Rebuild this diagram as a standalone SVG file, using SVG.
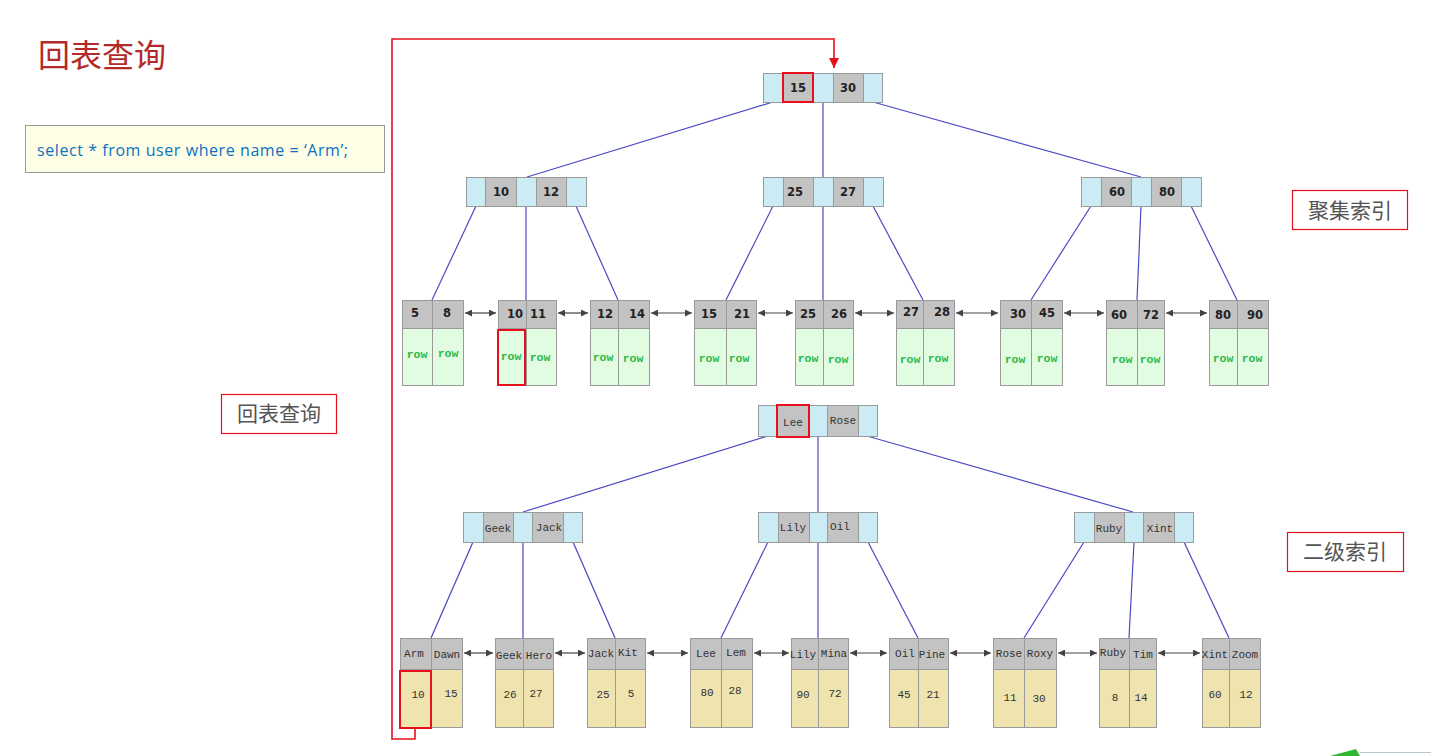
<svg xmlns="http://www.w3.org/2000/svg" width="1431" height="756" viewBox="0 0 1431 756">
<style>
.bl{fill:#cbecf4;stroke:#9a9a9a;stroke-width:1}
.gr{fill:#c3c3c3;stroke:#9a9a9a;stroke-width:1}
.gn{fill:#e1fce1;stroke:#9a9a9a;stroke-width:1}
.ye{fill:#efe3b0;stroke:#9a9a9a;stroke-width:1}
.hl{fill:none;stroke:#e8101a;stroke-width:2}
.k{font-family:"DejaVu Sans",sans-serif;font-size:11.5px;font-weight:bold;fill:#222;text-anchor:middle}
.nm{font-family:"Liberation Mono","DejaVu Sans Mono",monospace;font-size:11px;fill:#333;text-anchor:middle}
.rw{font-family:"Liberation Mono","DejaVu Sans Mono",monospace;font-size:11.5px;font-weight:bold;fill:#2bb84a;text-anchor:middle}
.num{font-family:"Liberation Mono","DejaVu Sans Mono",monospace;font-size:11px;fill:#333;text-anchor:middle}
.ln{stroke:#4a4ac4;stroke-width:1.2;fill:none}
.ar{stroke:#444;stroke-width:1.2;fill:none;marker-start:url(#ah);marker-end:url(#ah)}
.lbl{fill:#fff;stroke:#e8101a;stroke-width:1.2}
.lt{font-family:"Noto Sans CJK SC",sans-serif;font-size:21px;fill:#555;text-anchor:middle}
</style>
<defs>
<marker id="ah" viewBox="0 0 10 10" refX="10" refY="5" markerWidth="7" markerHeight="7" orient="auto-start-reverse" markerUnits="userSpaceOnUse">
<path d="M0,0 L10,5 L0,10 z" fill="#444"/>
</marker>
<marker id="rh" viewBox="0 0 10 10" refX="10" refY="5" markerWidth="10" markerHeight="10" orient="auto" markerUnits="userSpaceOnUse">
<path d="M0,0 L10,5 L0,10 z" fill="#e8101a"/>
</marker>
</defs>
<rect width="1431" height="756" fill="#fff"/>

<g id="title">
<text x="38" y="67" font-family="Noto Sans CJK SC,sans-serif" font-size="32" fill="#b22a2a">回表查询</text>
</g>
<g id="sql">
<rect x="25.500" y="125.500" width="359" height="47" fill="#fefee6" stroke="#999"/>
<text x="37" y="156" font-family="Open Sans,Liberation Sans,sans-serif" font-size="16" fill="#0b72c0" textLength="311">select * from user where name = ‘Arm’;</text>
</g>
<g id="label-huibiao">
<rect class="lbl" x="221.500" y="394.500" width="115" height="39"/>
<text class="lt" x="279" y="421">回表查询</text>
</g>
<g id="label-juji">
<rect class="lbl" x="1292.500" y="190.500" width="115" height="39"/>
<text class="lt" x="1350" y="218">聚集索引</text>
</g>
<g id="label-erji">
<rect class="lbl" x="1287.500" y="532.500" width="116" height="39"/>
<text class="lt" x="1345" y="559">二级索引</text>
</g>

<g id="connectors">
<line class="ln" x1="773" y1="102" x2="527" y2="177"/>
<line class="ln" x1="823" y1="102" x2="823" y2="177"/>
<line class="ln" x1="873" y1="102" x2="1141" y2="177"/>
<line class="ln" x1="476" y1="206" x2="432" y2="300"/>
<line class="ln" x1="526" y1="206" x2="526" y2="300"/>
<line class="ln" x1="576" y1="206" x2="618" y2="300"/>
<line class="ln" x1="773" y1="206" x2="726" y2="300"/>
<line class="ln" x1="823" y1="206" x2="823" y2="300"/>
<line class="ln" x1="873" y1="206" x2="923" y2="300"/>
<line class="ln" x1="1091" y1="206" x2="1031" y2="300"/>
<line class="ln" x1="1141" y1="206" x2="1137" y2="300"/>
<line class="ln" x1="1191" y1="206" x2="1237" y2="300"/>
<line class="ar" x1="465" y1="313" x2="496" y2="313"/>
<line class="ar" x1="558" y1="313" x2="588" y2="313"/>
<line class="ar" x1="651" y1="313" x2="692" y2="313"/>
<line class="ar" x1="758" y1="313" x2="793" y2="313"/>
<line class="ar" x1="855" y1="313" x2="894" y2="313"/>
<line class="ar" x1="956" y1="313" x2="998" y2="313"/>
<line class="ar" x1="1064" y1="313" x2="1104" y2="313"/>
<line class="ar" x1="1166" y1="313" x2="1207" y2="313"/>

<line class="ln" x1="768" y1="436" x2="523" y2="512"/>
<line class="ln" x1="818" y1="436" x2="818" y2="512"/>
<line class="ln" x1="867" y1="436" x2="1133" y2="512"/>
<line class="ln" x1="473" y1="542" x2="431" y2="638"/>
<line class="ln" x1="523" y1="542" x2="523" y2="638"/>
<line class="ln" x1="573" y1="542" x2="615" y2="638"/>
<line class="ln" x1="768" y1="542" x2="721" y2="638"/>
<line class="ln" x1="818" y1="542" x2="818" y2="638"/>
<line class="ln" x1="868" y1="542" x2="918" y2="638"/>
<line class="ln" x1="1084" y1="542" x2="1024" y2="638"/>
<line class="ln" x1="1134" y1="542" x2="1129" y2="638"/>
<line class="ln" x1="1184" y1="542" x2="1229" y2="638"/>
<line class="ar" x1="464" y1="653" x2="493" y2="653"/>
<line class="ar" x1="555" y1="653" x2="585" y2="653"/>
<line class="ar" x1="647" y1="653" x2="688" y2="653"/>
<line class="ar" x1="754" y1="653" x2="789" y2="653"/>
<line class="ar" x1="850" y1="653" x2="887" y2="653"/>
<line class="ar" x1="950" y1="653" x2="991" y2="653"/>
<line class="ar" x1="1058" y1="653" x2="1097" y2="653"/>
<line class="ar" x1="1158" y1="653" x2="1200" y2="653"/>

<path d="M415,728 V739 H392 V39 H834 V68" fill="none" stroke="#e8101a" stroke-width="1.6" marker-end="url(#rh)"/>
</g>

<!-- clustered index internal nodes -->
<g id="c-root">
<rect class="bl" x="763.500" y="73.500" width="20" height="29"/><rect class="gr" x="783.500" y="73.500" width="30" height="29"/><rect class="bl" x="813.500" y="73.500" width="20" height="29"/><rect class="gr" x="833.500" y="73.500" width="30" height="29"/><rect class="bl" x="863.500" y="73.500" width="19" height="29"/>
<rect class="hl" x="783" y="73" width="30" height="29"/>
<text class="k" x="798" y="92">15</text><text class="k" x="848" y="92">30</text>
</g>
<g id="c-l">
<rect class="bl" x="466.500" y="177.500" width="19" height="29"/><rect class="gr" x="485.500" y="177.500" width="31" height="29"/><rect class="bl" x="516.500" y="177.500" width="20" height="29"/><rect class="gr" x="536.500" y="177.500" width="30" height="29"/><rect class="bl" x="566.500" y="177.500" width="20" height="29"/>
<text class="k" x="501" y="196">10</text><text class="k" x="551" y="196">12</text>
</g>
<g id="c-m">
<rect class="bl" x="763.500" y="177.500" width="20" height="29"/><rect class="gr" x="783.500" y="177.500" width="30" height="29"/><rect class="bl" x="813.500" y="177.500" width="20" height="29"/><rect class="gr" x="833.500" y="177.500" width="30" height="29"/><rect class="bl" x="863.500" y="177.500" width="20" height="29"/>
<text class="k" x="795" y="196">25</text><text class="k" x="848" y="196">27</text>
</g>
<g id="c-r">
<rect class="bl" x="1081.500" y="177.500" width="20" height="29"/><rect class="gr" x="1101.500" y="177.500" width="30" height="29"/><rect class="bl" x="1131.500" y="177.500" width="20" height="29"/><rect class="gr" x="1151.500" y="177.500" width="30" height="29"/><rect class="bl" x="1181.500" y="177.500" width="20" height="29"/>
<text class="k" x="1117" y="196">60</text><text class="k" x="1167" y="196">80</text>
</g>

<!-- clustered leaves -->
<g id="c-leaf1">
<rect class="gr" x="402.500" y="300.500" width="30" height="28"/><rect class="gr" x="432.500" y="300.500" width="31" height="28"/>
<rect class="gn" x="402.500" y="328.500" width="30" height="57"/><rect class="gn" x="432.500" y="328.500" width="31" height="57"/>
<text class="k" x="415" y="317">5</text><text class="k" x="447" y="317">8</text>
<text class="rw" x="417" y="358">row</text><text class="rw" x="448" y="357">row</text>
</g>
<g id="c-leaf2">
<rect class="gr" x="498.500" y="300.500" width="28" height="28"/><rect class="gr" x="526.500" y="300.500" width="30" height="28"/>
<rect class="gn" x="498.500" y="328.500" width="28" height="57"/><rect class="gn" x="526.500" y="328.500" width="30" height="57"/>
<rect class="hl" x="498" y="330" width="27" height="55"/>
<text class="k" x="515" y="318">10</text><text class="k" x="538" y="318">11</text>
<text class="rw" x="511" y="360">row</text><text class="rw" x="540" y="361">row</text>
</g>
<g id="c-leaf3">
<rect class="gr" x="590.500" y="300.500" width="28" height="28"/><rect class="gr" x="618.500" y="300.500" width="31" height="28"/>
<rect class="gn" x="590.500" y="328.500" width="28" height="57"/><rect class="gn" x="618.500" y="328.500" width="31" height="57"/>
<text class="k" x="605" y="318">12</text><text class="k" x="637" y="318">14</text>
<text class="rw" x="603" y="361">row</text><text class="rw" x="633" y="362">row</text>
</g>
<g id="c-leaf4">
<rect class="gr" x="694.500" y="300.500" width="32" height="28"/><rect class="gr" x="726.500" y="300.500" width="30" height="28"/>
<rect class="gn" x="694.500" y="328.500" width="32" height="57"/><rect class="gn" x="726.500" y="328.500" width="30" height="57"/>
<text class="k" x="709" y="318">15</text><text class="k" x="742" y="318">21</text>
<text class="rw" x="709" y="362">row</text><text class="rw" x="739" y="362">row</text>
</g>
<g id="c-leaf5">
<rect class="gr" x="795.500" y="300.500" width="28" height="28"/><rect class="gr" x="823.500" y="300.500" width="30" height="28"/>
<rect class="gn" x="795.500" y="328.500" width="28" height="57"/><rect class="gn" x="823.500" y="328.500" width="30" height="57"/>
<text class="k" x="808" y="318">25</text><text class="k" x="839" y="318">26</text>
<text class="rw" x="808" y="362">row</text><text class="rw" x="838" y="363">row</text>
</g>
<g id="c-leaf6">
<rect class="gr" x="896.500" y="300.500" width="27" height="28"/><rect class="gr" x="923.500" y="300.500" width="31" height="28"/>
<rect class="gn" x="896.500" y="328.500" width="27" height="57"/><rect class="gn" x="923.500" y="328.500" width="31" height="57"/>
<text class="k" x="911" y="316">27</text><text class="k" x="942" y="316">28</text>
<text class="rw" x="910" y="363">row</text><text class="rw" x="938" y="362">row</text>
</g>
<g id="c-leaf7">
<rect class="gr" x="1000.500" y="300.500" width="31" height="28"/><rect class="gr" x="1031.500" y="300.500" width="31" height="28"/>
<rect class="gn" x="1000.500" y="328.500" width="31" height="57"/><rect class="gn" x="1031.500" y="328.500" width="31" height="57"/>
<text class="k" x="1018" y="318">30</text><text class="k" x="1047" y="317">45</text>
<text class="rw" x="1015" y="363">row</text><text class="rw" x="1047" y="362">row</text>
</g>
<g id="c-leaf8">
<rect class="gr" x="1106.500" y="300.500" width="31" height="28"/><rect class="gr" x="1137.500" y="300.500" width="27" height="28"/>
<rect class="gn" x="1106.500" y="328.500" width="31" height="57"/><rect class="gn" x="1137.500" y="328.500" width="27" height="57"/>
<text class="k" x="1119" y="319">60</text><text class="k" x="1151" y="319">72</text>
<text class="rw" x="1122" y="363">row</text><text class="rw" x="1150" y="363">row</text>
</g>
<g id="c-leaf9">
<rect class="gr" x="1209.500" y="300.500" width="28" height="28"/><rect class="gr" x="1237.500" y="300.500" width="31" height="28"/>
<rect class="gn" x="1209.500" y="328.500" width="28" height="57"/><rect class="gn" x="1237.500" y="328.500" width="31" height="57"/>
<text class="k" x="1223" y="319">80</text><text class="k" x="1255" y="319">90</text>
<text class="rw" x="1223" y="362">row</text><text class="rw" x="1252" y="362">row</text>
</g>

<!-- secondary index internal nodes -->
<g id="s-root">
<rect class="bl" x="758.500" y="405.500" width="19" height="31"/><rect class="gr" x="777.500" y="405.500" width="32" height="31"/><rect class="bl" x="809.500" y="405.500" width="18" height="31"/><rect class="gr" x="827.500" y="405.500" width="31" height="31"/><rect class="bl" x="858.500" y="405.500" width="19" height="31"/>
<rect class="hl" x="777" y="405" width="32" height="32"/>
<text class="nm" x="793" y="426">Lee</text><text class="nm" x="843" y="424">Rose</text>
</g>
<g id="s-l">
<rect class="bl" x="463.500" y="512.500" width="20" height="30"/><rect class="gr" x="483.500" y="512.500" width="30" height="30"/><rect class="bl" x="513.500" y="512.500" width="19" height="30"/><rect class="gr" x="532.500" y="512.500" width="31" height="30"/><rect class="bl" x="563.500" y="512.500" width="19" height="30"/>
<text class="nm" x="498" y="532">Geek</text><text class="nm" x="549" y="531">Jack</text>
</g>
<g id="s-m">
<rect class="bl" x="758.500" y="512.500" width="20" height="30"/><rect class="gr" x="778.500" y="512.500" width="31" height="30"/><rect class="bl" x="809.500" y="512.500" width="18" height="30"/><rect class="gr" x="827.500" y="512.500" width="31" height="30"/><rect class="bl" x="858.500" y="512.500" width="19" height="30"/>
<text class="nm" x="793" y="531">Lily</text><text class="nm" x="840" y="530">Oil</text>
</g>
<g id="s-r">
<rect class="bl" x="1074.500" y="512.500" width="20" height="30"/><rect class="gr" x="1094.500" y="512.500" width="30" height="30"/><rect class="bl" x="1124.500" y="512.500" width="19" height="30"/><rect class="gr" x="1143.500" y="512.500" width="31" height="30"/><rect class="bl" x="1174.500" y="512.500" width="19" height="30"/>
<text class="nm" x="1109" y="532">Ruby</text><text class="nm" x="1160" y="532">Xint</text>
</g>

<!-- secondary leaves -->
<g id="s-leaf1">
<rect class="gr" x="400.500" y="638.500" width="31" height="31"/><rect class="gr" x="431.500" y="638.500" width="31" height="31"/>
<rect class="ye" x="400.500" y="669.500" width="31" height="58"/><rect class="ye" x="431.500" y="669.500" width="31" height="58"/>
<rect class="hl" x="400" y="671" width="31" height="57"/>
<text class="nm" x="414" y="657">Arm</text><text class="nm" x="447" y="658">Dawn</text>
<text class="num" x="418" y="698">10</text><text class="num" x="451" y="697">15</text>
</g>
<g id="s-leaf2">
<rect class="gr" x="495.500" y="638.500" width="28" height="31"/><rect class="gr" x="523.500" y="638.500" width="30" height="31"/>
<rect class="ye" x="495.500" y="669.500" width="28" height="58"/><rect class="ye" x="523.500" y="669.500" width="30" height="58"/>
<text class="nm" x="509" y="659">Geek</text><text class="nm" x="539" y="659">Hero</text>
<text class="num" x="510" y="698">26</text><text class="num" x="536" y="697">27</text>
</g>
<g id="s-leaf3">
<rect class="gr" x="587.500" y="638.500" width="28" height="31"/><rect class="gr" x="615.500" y="638.500" width="30" height="31"/>
<rect class="ye" x="587.500" y="669.500" width="28" height="58"/><rect class="ye" x="615.500" y="669.500" width="30" height="58"/>
<text class="nm" x="601" y="657">Jack</text><text class="nm" x="628" y="656">Kit</text>
<text class="num" x="603" y="698">25</text><text class="num" x="631" y="697">5</text>
</g>
<g id="s-leaf4">
<rect class="gr" x="690.500" y="638.500" width="31" height="31"/><rect class="gr" x="721.500" y="638.500" width="31" height="31"/>
<rect class="ye" x="690.500" y="669.500" width="31" height="58"/><rect class="ye" x="721.500" y="669.500" width="31" height="58"/>
<text class="nm" x="706" y="657">Lee</text><text class="nm" x="736" y="656">Lem</text>
<text class="num" x="707" y="696">80</text><text class="num" x="735" y="694">28</text>
</g>
<g id="s-leaf5">
<rect class="gr" x="791.500" y="638.500" width="27" height="31"/><rect class="gr" x="818.500" y="638.500" width="30" height="31"/>
<rect class="ye" x="791.500" y="669.500" width="27" height="58"/><rect class="ye" x="818.500" y="669.500" width="30" height="58"/>
<text class="nm" x="803" y="658">Lily</text><text class="nm" x="834" y="657">Mina</text>
<text class="num" x="803" y="698">90</text><text class="num" x="835" y="697">72</text>
</g>
<g id="s-leaf6">
<rect class="gr" x="889.500" y="638.500" width="29" height="31"/><rect class="gr" x="918.500" y="638.500" width="30" height="31"/>
<rect class="ye" x="889.500" y="669.500" width="29" height="58"/><rect class="ye" x="918.500" y="669.500" width="30" height="58"/>
<text class="nm" x="905" y="657">Oil</text><text class="nm" x="932" y="658">Pine</text>
<text class="num" x="904" y="698">45</text><text class="num" x="933" y="698">21</text>
</g>
<g id="s-leaf7">
<rect class="gr" x="993.500" y="638.500" width="31" height="31"/><rect class="gr" x="1024.500" y="638.500" width="32" height="31"/>
<rect class="ye" x="993.500" y="669.500" width="31" height="58"/><rect class="ye" x="1024.500" y="669.500" width="32" height="58"/>
<text class="nm" x="1009" y="657">Rose</text><text class="nm" x="1040" y="657">Roxy</text>
<text class="num" x="1010" y="701">11</text><text class="num" x="1039" y="702">30</text>
</g>
<g id="s-leaf8">
<rect class="gr" x="1099.500" y="638.500" width="30" height="31"/><rect class="gr" x="1129.500" y="638.500" width="27" height="31"/>
<rect class="ye" x="1099.500" y="669.500" width="30" height="58"/><rect class="ye" x="1129.500" y="669.500" width="27" height="58"/>
<text class="nm" x="1113" y="656">Ruby</text><text class="nm" x="1143" y="658">Tim</text>
<text class="num" x="1115" y="701">8</text><text class="num" x="1141" y="701">14</text>
</g>
<g id="s-leaf9">
<rect class="gr" x="1202.500" y="638.500" width="27" height="31"/><rect class="gr" x="1229.500" y="638.500" width="31" height="31"/>
<rect class="ye" x="1202.500" y="669.500" width="27" height="58"/><rect class="ye" x="1229.500" y="669.500" width="31" height="58"/>
<text class="nm" x="1215" y="658">Xint</text><text class="nm" x="1245" y="658">Zoom</text>
<text class="num" x="1215" y="698">60</text><text class="num" x="1246" y="698">12</text>
</g>

<g id="corner">
<polygon points="1330,756 1356,749 1360,756" fill="#2fb82f"/>
<line x1="1360" y1="752.500" x2="1431" y2="752.500" stroke="#b8c8d0" stroke-width="1"/>
</g>
</svg>
